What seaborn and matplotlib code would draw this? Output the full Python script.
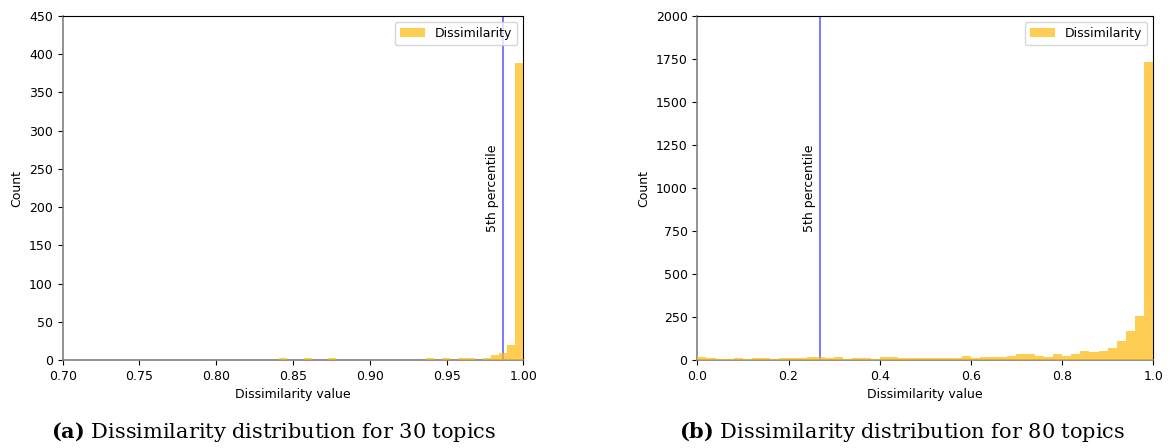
import matplotlib
matplotlib.use("Agg")
import matplotlib.pyplot as plt
import numpy as np
import pandas as pd
import seaborn as sns

plt.rcParams['font.family'] = ['DejaVu Sans']
plt.rcParams['mathtext.fontset'] = 'custom'
plt.rcParams['mathtext.rm'] = 'DejaVu Serif'
plt.rcParams['mathtext.bf'] = 'DejaVu Serif:bold'

# (a) 30 topics: 50 bins between 0.735 and 1.0
edges_30 = np.linspace(0.735, 1.0, 51)
counts_30 = [0] * 50
for i, c in {20: 2, 23: 2, 26: 2, 38: 2, 40: 2, 42: 2, 43: 3,
             45: 3, 46: 7, 47: 9, 48: 20, 49: 388}.items():
    counts_30[i] = c
p5_30 = 0.9868

# (b) 80 topics: 50 bins between 0 and 1
edges_80 = np.linspace(0.0, 1.0, 51)
counts_80 = [17, 11, 6, 6, 11, 6, 11, 11, 6, 11,
             11, 11, 17, 17, 11, 17, 6, 11, 11, 6,
             17, 17, 11, 11, 11, 11, 11, 11, 11, 22,
             11, 20, 17, 17, 22, 35, 35, 22, 17, 35,
             22, 35, 50, 45, 55, 67, 110, 168, 255, 1735]
p5_80 = 0.27

bar_color = '#ffb90c'
line_color = '#3a3aff'

fig = plt.figure(figsize=(11.7, 4.48), dpi=100)
ax1 = fig.add_axes([0.0536, 0.1964, 0.3937, 0.7679])
ax2 = fig.add_axes([0.5960, 0.1964, 0.3897, 0.7679])


def draw_panel(ax, edges, counts, p5, xlim, ylim, xticks, yticks, xfmt):
    df = pd.DataFrame({'value': (edges[:-1] + edges[1:]) / 2,
                       'count': counts})
    sns.histplot(data=df, x='value', weights='count', bins=list(edges), ax=ax,
                 color=bar_color, alpha=0.7, linewidth=0,
                 label='Dissimilarity')
    # bars over the axis line, as in the original
    for p in ax.patches:
        p.set_zorder(3)
    ax.axvline(p5, color=line_color, lw=1.2, alpha=0.8)
    ax.annotate('5th percentile', xy=(p5, ylim[1] / 2), xytext=(-3, 0),
                textcoords='offset points', rotation=90,
                ha='right', va='center', fontsize=9)
    ax.set_xlim(*xlim)
    ax.set_ylim(*ylim)
    ax.set_xticks(xticks)
    ax.set_xticklabels([xfmt % t for t in xticks])
    ax.set_yticks(yticks)
    ax.tick_params(labelsize=9)
    ax.set_xlabel('Dissimilarity value', fontsize=9)
    ax.set_ylabel('Count', fontsize=9)
    for s in ['left', 'bottom']:
        ax.spines[s].set_color('#808080')
        ax.spines[s].set_linewidth(1.2)
    for s in ['top', 'right']:
        ax.spines[s].set_color('black')
        ax.spines[s].set_linewidth(0.8)
    ax.legend(loc='upper right', fontsize=9)


draw_panel(ax1, edges_30, counts_30, p5_30, (0.70, 1.00), (0, 450),
           [0.70, 0.75, 0.80, 0.85, 0.90, 0.95, 1.00],
           list(range(0, 451, 50)), '%.2f')
draw_panel(ax2, edges_80, counts_80, p5_80, (0.0, 1.0), (0, 2000),
           [0.0, 0.2, 0.4, 0.6, 0.8, 1.0],
           list(range(0, 2001, 250)), '%.1f')

fig.text(0.234, 0.036, r'$\bf{(a)}$ Dissimilarity distribution for 30 topics',
         ha='center', va='center', fontsize=15, family='DejaVu Serif')
fig.text(0.771, 0.036, r'$\bf{(b)}$ Dissimilarity distribution for 80 topics',
         ha='center', va='center', fontsize=15, family='DejaVu Serif')

fig.savefig('out.png', dpi=100)
